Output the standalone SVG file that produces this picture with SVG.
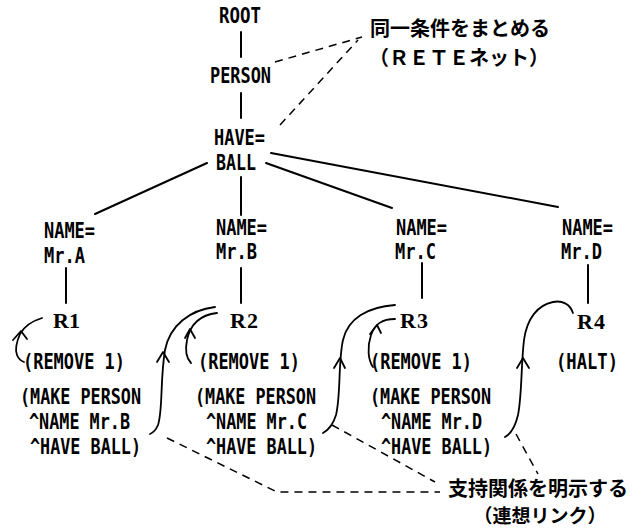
<svg xmlns="http://www.w3.org/2000/svg" width="638" height="529" viewBox="0 0 638 529">
<style>
.m{font-family:"DejaVu Sans Mono","Liberation Mono",monospace;font-weight:bold;font-size:21.5px;fill:#000}
.r{font-family:"Liberation Serif",serif;font-weight:bold;font-size:22px;fill:#000}
.j{font-family:"Noto Sans CJK JP","Noto Sans CJK SC",sans-serif;font-weight:bold;font-size:20px;fill:#000;text-anchor:middle}
.l{fill:none;stroke:#000;stroke-width:2;stroke-linecap:round}
.a{fill:none;stroke:#000;stroke-width:1.8;stroke-linecap:round;stroke-linejoin:round}
.d{fill:none;stroke:#000;stroke-width:1.5;stroke-dasharray:8 6}
</style>
<rect width="638" height="529" fill="#fff"/>
<g id="connectors">
<path class="l" d="M241 32V57M241 93V118M241 177V215M207 163L95 214M266 163L392 208M271 153L558 207M66 268V303M241 268V303M422 263V298M588 265V303"/>
<path class="a" d="M42 318Q26 323 20 334Q14 348 17 355Q19 360 24 362"/>
<path class="a" d="M13 340L21 331L27 339"/>
<path class="a" d="M215 307C190 310 170 325 165 350C160 380 163 410 158 425Q155 432 150 434"/>
<path class="a" d="M157 362L163 352L169 362"/>
<path class="a" d="M217 313C200 315 190 325 187 340C185 350 186 358 191 363"/>
<path class="a" d="M185 338L190 329L195 338"/>
<path class="a" d="M395 305C368 307 348 318 343 340C338 362 341 395 336 415Q332 428 323 433"/>
<path class="a" d="M334 368L340 358L345 368"/>
<path class="a" d="M395 319C383 319 375 323 371 335C367 347 368 360 373 367"/>
<path class="a" d="M370 334L377 325L381 333"/>
<path class="a" d="M573 313C570 304 562 300 553 302C538 305 527 318 524 340C521 365 522 395 518 415Q514 432 505 437"/>
<path class="a" d="M517 368L523 358L529 368"/>
<path class="d" d="M275 62L362 37M280 125L358 40"/>
<path class="d" d="M167 438L277 492L440 492M332 425L435 482M516 434L538 474"/>
</g>
<g id="root"><text class="m" x="219" y="23" textLength="42" lengthAdjust="spacingAndGlyphs">ROOT</text></g>
<g id="person"><text class="m" x="210" y="83" textLength="61" lengthAdjust="spacingAndGlyphs">PERSON</text></g>
<g id="have-ball">
<text class="m" x="214" y="145" textLength="51" lengthAdjust="spacingAndGlyphs">HAVE=</text>
<text class="m" x="216" y="170" textLength="40" lengthAdjust="spacingAndGlyphs">BALL</text>
</g>
<g id="name-a">
<text class="m" x="44" y="238" textLength="51" lengthAdjust="spacingAndGlyphs">NAME=</text>
<text class="m" x="44" y="263" textLength="41" lengthAdjust="spacingAndGlyphs">Mr.A</text>
</g>
<g id="name-b">
<text class="m" x="216" y="235" textLength="51" lengthAdjust="spacingAndGlyphs">NAME=</text>
<text class="m" x="216" y="259" textLength="41" lengthAdjust="spacingAndGlyphs">Mr.B</text>
</g>
<g id="name-c">
<text class="m" x="396" y="235" textLength="51" lengthAdjust="spacingAndGlyphs">NAME=</text>
<text class="m" x="395" y="259" textLength="41" lengthAdjust="spacingAndGlyphs">Mr.C</text>
</g>
<g id="name-d">
<text class="m" x="562" y="235" textLength="51" lengthAdjust="spacingAndGlyphs">NAME=</text>
<text class="m" x="561" y="259" textLength="41" lengthAdjust="spacingAndGlyphs">Mr.D</text>
</g>
<g id="r1">
<text class="r" x="53" y="328" textLength="27" lengthAdjust="spacing">R1</text>
<text class="m" x="23" y="369" textLength="102" lengthAdjust="spacingAndGlyphs">(REMOVE 1)</text>
<text class="m" x="20" y="404" textLength="121" lengthAdjust="spacingAndGlyphs">(MAKE PERSON</text>
<text class="m" x="29" y="429" textLength="101" lengthAdjust="spacingAndGlyphs">^NAME Mr.B</text>
<text class="m" x="30" y="454" textLength="111" lengthAdjust="spacingAndGlyphs">^HAVE BALL)</text>
</g>
<g id="r2">
<text class="r" x="230" y="328" textLength="28" lengthAdjust="spacing">R2</text>
<text class="m" x="198" y="369" textLength="102" lengthAdjust="spacingAndGlyphs">(REMOVE 1)</text>
<text class="m" x="195" y="404" textLength="121" lengthAdjust="spacingAndGlyphs">(MAKE PERSON</text>
<text class="m" x="206" y="429" textLength="101" lengthAdjust="spacingAndGlyphs">^NAME Mr.C</text>
<text class="m" x="206" y="454" textLength="111" lengthAdjust="spacingAndGlyphs">^HAVE BALL)</text>
</g>
<g id="r3">
<text class="r" x="400" y="328" textLength="28" lengthAdjust="spacing">R3</text>
<text class="m" x="370" y="369" textLength="102" lengthAdjust="spacingAndGlyphs">(REMOVE 1)</text>
<text class="m" x="370" y="404" textLength="121" lengthAdjust="spacingAndGlyphs">(MAKE PERSON</text>
<text class="m" x="381" y="429" textLength="101" lengthAdjust="spacingAndGlyphs">^NAME Mr.D</text>
<text class="m" x="381" y="454" textLength="111" lengthAdjust="spacingAndGlyphs">^HAVE BALL)</text>
</g>
<g id="r4">
<text class="r" x="577" y="329" textLength="28" lengthAdjust="spacing">R4</text>
<text class="m" x="556" y="369" textLength="62" lengthAdjust="spacingAndGlyphs">(HALT)</text>
</g>
<g id="note-rete">
<text class="j" x="460" y="36">同一条件をまとめる</text>
<text class="j" x="459" y="65">（ＲＥＴＥネット）</text>
</g>
<g id="note-support">
<text class="j" x="538" y="496">支持関係を明示する</text>
<text class="j" x="540" y="523" style="font-size:19px">（連想リンク）</text>
</g>
</svg>
